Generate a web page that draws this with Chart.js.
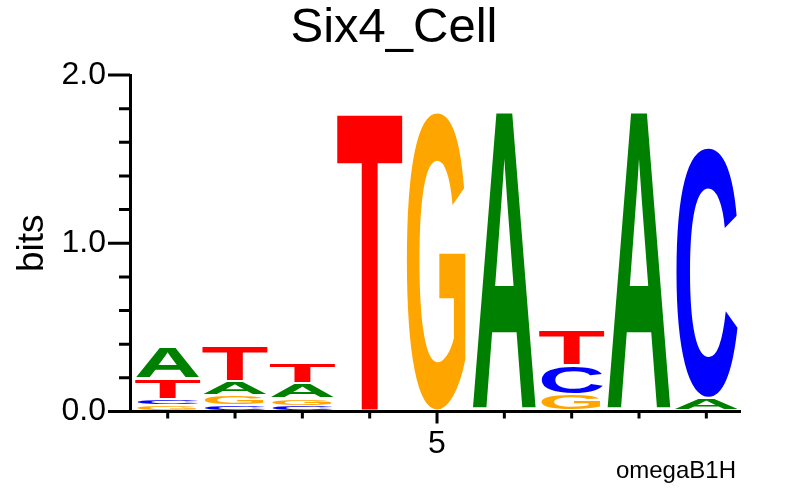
<!DOCTYPE html>
<html>
<head>
<meta charset="utf-8">
<script src="https://cdn.jsdelivr.net/npm/chart.js@4"></script>
<style>
  html, body { margin: 0; padding: 0; background: #fff; }
  #wrap { width: 788px; height: 496px; }
</style>
</head>
<body>
<div id="wrap"><canvas id="c" width="788" height="496"></canvas></div>
<script>
// ---- data (information content in bits) ----
const positions = [1, 2, 3, 4, 5, 6, 7, 8, 9];
const bitsA = [0.1875, 0.080, 0.090, 0, 0, 1.776, 0, 1.776, 0.075];
const bitsC = [0.035, 0.033, 0.027, 0, 0, 0, 0.170, 0, 1.490];
const bitsG = [0.034, 0.060, 0.045, 0, 1.776, 0, 0.098, 0, 0];
const bitsT = [0.120, 0.208, 0.122, 1.776, 0, 0, 0.212, 0, 0];
const yTickValues = [0, 1, 2];
const yMinorTickValues = [0.2, 0.4, 0.6, 0.8, 1.2, 1.4, 1.6, 1.8];
const xTickLabels = ['5'];
const titleText = 'Six4_Cell';
const yTitle = 'bits';
const footnote = 'omegaB1H';

const letters = ['A', 'C', 'G', 'T'];
const series = { A: bitsA, C: bitsC, G: bitsG, T: bitsT };
const colors = { A: '#008000', C: '#0000FF', G: '#FFA500', T: '#FF0000' };
const FONT = '"Liberation Sans", Arial, Helvetica, sans-serif';

function drawGlyph(ctx, ch, color, xl, xr, yt, yb) {
  const h = yb - yt;
  if (h <= 0.3) return;
  const gap = Math.min(2, h * 0.3);
  const th = h - gap;
  ctx.save();
  ctx.font = 'bold 200px ' + FONT;
  ctx.textAlign = 'left';
  ctx.textBaseline = 'alphabetic';
  const m = ctx.measureText(ch);
  const asc = m.actualBoundingBoxAscent, desc = m.actualBoundingBoxDescent;
  const inkH = asc + desc;
  const sx = (xr - xl) / m.width;
  const sy = th / inkH;
  ctx.translate(xl, yt);
  ctx.scale(sx, sy);
  ctx.fillStyle = color;
  ctx.fillText(ch, 0, asc);
  ctx.restore();
}

const logoPlugin = {
  id: 'logo',
  afterDatasetsDraw(chart) {
    const ctx = chart.ctx, xs = chart.scales.x, ys = chart.scales.y;
    positions.forEach((p, i) => {
      const entries = letters
        .map(L => ({ ch: L, h: series[L][i] }))
        .filter(e => e.h > 0)
        .sort((a, b) => a.h - b.h);
      const xl = xs.getPixelForValue(p - 0.5);
      const xr = xs.getPixelForValue(p + 0.5);
      let cum = 0;
      entries.forEach(e => {
        const yb = ys.getPixelForValue(cum);
        const yt = ys.getPixelForValue(cum + e.h);
        drawGlyph(ctx, e.ch, colors[e.ch], xl, xr, yt, yb);
        cum += e.h;
      });
    });
  },
  afterDraw(chart) {
    const ctx = chart.ctx, xs = chart.scales.x, ys = chart.scales.y;
    const left = chart.chartArea.left, bottom = chart.chartArea.bottom;
    ctx.save();
    ctx.strokeStyle = '#000';
    ctx.lineWidth = 3;
    ctx.lineCap = 'butt';
    ctx.beginPath();
    yTickValues.forEach(v => {
      const y = ys.getPixelForValue(v);
      ctx.moveTo(left - 22, y); ctx.lineTo(left, y);
    });
    yMinorTickValues.forEach(v => {
      const y = ys.getPixelForValue(v);
      ctx.moveTo(left - 11, y); ctx.lineTo(left, y);
    });
    positions.forEach(p => {
      const x = xs.getPixelForValue(p);
      const len = xTickLabels.includes(String(p)) ? 12 : 7;
      ctx.moveTo(x, bottom); ctx.lineTo(x, bottom + len);
    });
    ctx.stroke();
    ctx.fillStyle = '#000';
    ctx.font = '24px ' + FONT;
    ctx.textAlign = 'right';
    ctx.textBaseline = 'alphabetic';
    ctx.fillText(footnote, 736, 478);
    ctx.restore();
  }
};

const datasets = letters.map(L => ({
  label: L,
  data: positions.map((p, i) => ({ x: p, y: series[L][i] })),
  showLine: false,
  pointRadius: 0,
  pointHoverRadius: 0
}));

new Chart(document.getElementById('c'), {
  type: 'scatter',
  data: { datasets },
  plugins: [logoPlugin],
  options: {
    responsive: false,
    animation: false,
    devicePixelRatio: 1,
    events: [],
    layout: { padding: 0 },
    plugins: {
      legend: { display: false },
      tooltip: { enabled: false },
      title: {
        display: true,
        text: titleText,
        color: '#000',
        font: { family: FONT, size: 49, weight: 'normal', lineHeight: 1 },
        padding: { top: 4, bottom: 22 }
      }
    },
    scales: {
      x: {
        type: 'linear',
        min: 0.44,
        max: 9.5,
        offset: false,
        grid: { display: false, drawTicks: false },
        border: { display: true, color: '#000', width: 3 },
        afterBuildTicks: s => { s.ticks = xTickLabels.map(v => ({ value: Number(v) })); },
        ticks: {
          callback: v => String(v),
          color: '#000',
          font: { family: FONT, size: 32 },
          padding: 13,
          maxRotation: 0,
          autoSkip: false
        },
        afterFit: s => { s.height = 84.5; }
      },
      y: {
        type: 'linear',
        min: 0,
        max: 2,
        grid: { display: false, drawTicks: false },
        border: { display: true, color: '#000', width: 3 },
        afterBuildTicks: s => { s.ticks = yTickValues.map(v => ({ value: v })); },
        ticks: {
          callback: v => Number(v).toFixed(1),
          color: '#000',
          font: { family: FONT, size: 32 },
          padding: 24
        },
        title: {
          display: true,
          text: yTitle,
          color: '#000',
          font: { family: FONT, size: 37 },
          padding: { top: 11, bottom: 0 }
        },
        afterFit: s => { s.width = 130; }
      },
      yRight: {
        type: 'linear',
        position: 'right',
        display: true,
        min: 0,
        max: 2,
        grid: { display: false, drawTicks: false },
        border: { display: false },
        ticks: { display: false },
        afterFit: s => { s.width = 48; }
      }
    }
  }
});
</script>
</body>
</html>
